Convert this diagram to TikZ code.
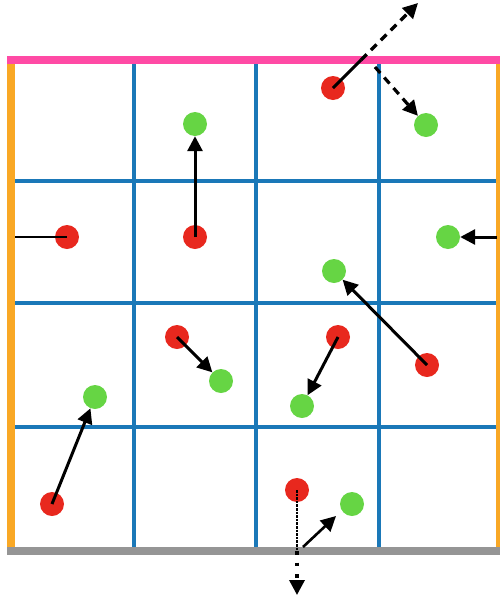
\documentclass[tikz,border=0pt]{standalone}
\usetikzlibrary{arrows.meta}
\definecolor{dotred}{HTML}{E8281E}
\definecolor{dotgreen}{HTML}{66D544}
\definecolor{gridblue}{HTML}{1A78B8}
\definecolor{edgepink}{HTML}{FF4AA5}
\definecolor{edgeorange}{HTML}{F9A825}
\definecolor{edgegray}{HTML}{959595}
\begin{document}
\begin{tikzpicture}[x=1pt,y=-1pt,
  reddot/.style={circle,fill=dotred,minimum size=24pt,inner sep=0pt},
  greendot/.style={circle,fill=dotgreen,minimum size=24pt,inner sep=0pt},
  gridline/.style={gridblue,line width=4.5pt},
  wall/.style={line width=8.5pt},
  tipstyle/.style={-{Triangle[length=15pt,width=15pt]}},
  move/.style={black,line width=3pt,tipstyle},
  dashmove/.style={black,line width=3.2pt,dash pattern=on 8pt off 6pt,tipstyle}]
\useasboundingbox (0,0) rectangle (500,603);
\clip (0,0) rectangle (500,603);
% grid
\foreach \x in {134,256,379} \draw[gridline] (\x,60) -- (\x,551);
\foreach \y in {181,303,427} \draw[gridline] (11,\y) -- (500,\y);
% walls
\draw[wall,edgeorange] (11,60) -- (11,551);
\draw[wall,edgeorange] (500,60) -- (500,551);
\draw[wall,edgepink] (7,60) -- (500,60);
\draw[wall,edgegray] (7,551) -- (500,551);
% dots
\node[reddot] (r1) at (333,88) {};
\node[greendot] (g1) at (426,125) {};
\node[reddot] (r2) at (195,237) {};
\node[greendot] (g2) at (195,124) {};
\node[reddot] (r3) at (67,237) {};
\node[greendot] (g4) at (448,237) {};
\node[reddot] (r5) at (427,365) {};
\node[greendot] (g5) at (334,271) {};
\node[reddot] (r6) at (177,337) {};
\node[greendot] (g6) at (221,381) {};
\node[reddot] (r7) at (338,337) {};
\node[greendot] (g7) at (302,406) {};
\node[reddot] (r8) at (52,504) {};
\node[greendot] (g8) at (95,397) {};
\node[reddot] (r9) at (297,490) {};
\node[greendot] (g9) at (352,504) {};
% coordinates
\coordinate (p1) at (361,60);
\coordinate (t1) at (418,3);
\coordinate (q1) at (375,67);
\coordinate (p3) at (15,237);
\coordinate (p4) at (497,237);
\coordinate (p9) at (297,551);
\coordinate (t9) at (297,595);
\coordinate (q9) at (303,547);
\coordinate (u9) at (336,516);
% moves
\draw[black,line width=3pt] (r1.center) -- (p1);
\draw[dashmove] (p1) -- (t1);
\draw[dashmove] (q1) -- (g1);
\draw[move] (r2.center) -- (g2);
\draw[black,line width=2.4pt] (r3.center) -- (p3);
\draw[move] (p4) -- (g4);
\draw[move] (r5.center) -- (g5);
\draw[move] (r6.center) -- (g6);
\draw[move] (r7.center) -- (g7);
\draw[move] (r8.center) -- (g8);
\draw[black,line width=2.6pt,densely dotted] (r9.center) -- (p9);
\draw[black,line width=3.4pt,dash pattern=on 3.5pt off 8pt,tipstyle] (p9) -- (t9);
\draw[black,line width=2.6pt,tipstyle] (q9) -- (u9);
\end{tikzpicture}
\end{document}
